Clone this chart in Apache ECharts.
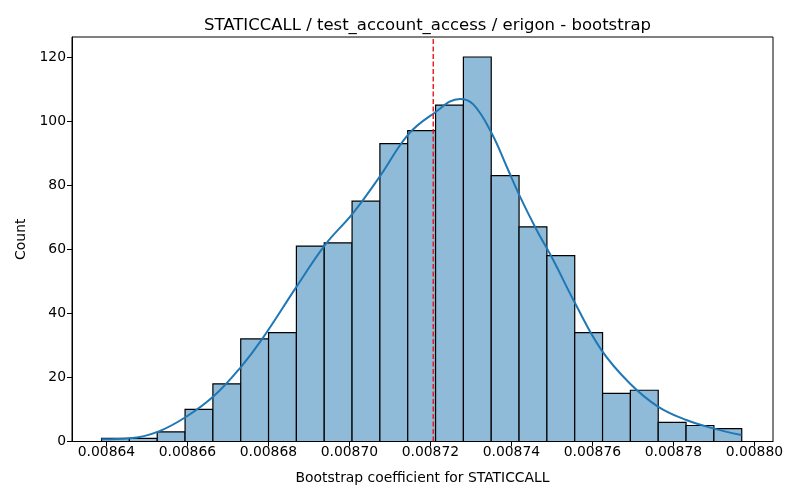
<!DOCTYPE html>
<html>
<head>
<meta charset="utf-8">
<title>STATICCALL bootstrap</title>
<script src="https://cdn.jsdelivr.net/npm/echarts@6/dist/echarts.min.js"></script>
<style>
  html, body { margin: 0; padding: 0; background: #fff; }
  #chart { width: 800px; height: 500px; }
</style>
</head>
<body>
<div id="chart"></div>
<script>
// histogram bins: first edge, bin width, counts per bin
var binStart = 0.0086388;
var binWidth = 0.000006873;
var counts = [1, 1, 3, 10, 18, 32, 34, 61, 62, 75, 93, 97, 105, 120, 83, 67, 58, 34, 15, 16, 6, 5, 4];

// kde curve
var kdeX = [0.0086388, 0.0086458, 0.0086528, 0.0086598, 0.0086668, 0.0086733, 0.0086783,
            0.0086870, 0.0086940, 0.0087009, 0.0087075, 0.0087145, 0.0087207, 0.0087273,
            0.0087306, 0.0087351, 0.0087388, 0.0087421, 0.0087462, 0.0087503, 0.0087557,
            0.0087622, 0.0087692, 0.0087762, 0.0087832, 0.0087898, 0.0087968];
var kdeY = [0.7, 1.0, 3.1, 7.8, 14.5, 23.4, 31.7, 48.4, 61.4, 71.3, 82.7, 95.8, 102.3, 106.9,
            105.2, 96.3, 85.9, 76.5, 66.1, 56.7, 43.2, 28.6, 18.2, 10.9, 6.7, 4.1, 2.0];

// dashed reference line (x position)
var meanLine = 0.0087207;

var xTicks = [0.00864, 0.00866, 0.00868, 0.00870, 0.00872, 0.00874, 0.00876, 0.00878, 0.00880];
var yTicks = [0, 20, 40, 60, 80, 100, 120];

var yMax = 126.25;

var bars = counts.map(function (c, i) {
    return [binStart + i * binWidth, binStart + (i + 1) * binWidth, c];
});
var kde = kdeX.map(function (x, i) { return [x, kdeY[i]]; });

var font = 'DejaVu Sans';
var myChart = echarts.init(document.getElementById('chart'));

var option = {
    animation: false,
    title: {
        text: 'STATICCALL / test_account_access / erigon - bootstrap',
        left: 422.5,
        top: 12,
        textAlign: 'center',
        textStyle: { fontFamily: font, fontSize: 16.5, fontWeight: 'normal', color: '#000' }
    },
    grid: {
        left: 72, right: 27, top: 37, bottom: 58.5,
        show: true, borderColor: '#000', borderWidth: 1
    },
    xAxis: {
        type: 'value',
        min: 0.0086315,
        max: 0.0088046,
        name: 'Bootstrap coefficient for STATICCALL',
        nameLocation: 'middle',
        nameGap: 30,
        nameTextStyle: { fontFamily: font, fontSize: 13.9, color: '#000' },
        splitLine: { show: false },
        axisLine: { lineStyle: { color: '#000' } },
        axisTick: { show: true, length: 5, lineStyle: { color: '#000' }, customValues: xTicks },
        axisLabel: {
            fontFamily: font, fontSize: 13.9, color: '#000', margin: 4,
            customValues: xTicks,
            formatter: function (v) { return v.toFixed(5); }
        }
    },
    yAxis: {
        type: 'value',
        min: 0,
        max: yMax,
        name: 'Count',
        nameLocation: 'middle',
        nameGap: 44,
        nameTextStyle: { fontFamily: font, fontSize: 13.9, color: '#000' },
        splitLine: { show: false },
        axisLine: { show: true, lineStyle: { color: '#000' } },
        axisTick: { show: true, length: 5, lineStyle: { color: '#000' }, customValues: yTicks },
        axisLabel: { fontFamily: font, fontSize: 13.9, color: '#000', margin: 6, customValues: yTicks }
    },
    series: [
        {
            type: 'custom',
            data: bars,
            renderItem: function (params, api) {
                var p0 = api.coord([api.value(0), 0]);
                var p1 = api.coord([api.value(1), api.value(2)]);
                return {
                    type: 'rect',
                    shape: { x: p0[0], y: p1[1], width: p1[0] - p0[0], height: p0[1] - p1[1] },
                    style: { fill: '#8fbbd9', stroke: '#000', lineWidth: 1.2 }
                };
            },
            z: 2
        },
        {
            type: 'line',
            data: kde,
            smooth: 0.4,
            symbol: 'none',
            lineStyle: { color: '#1f77b4', width: 2 },
            z: 3
        },
        {
            type: 'line',
            data: [[meanLine, 0], [meanLine, yMax]],
            symbol: 'none',
            silent: true,
            lineStyle: { color: '#e8141c', type: [5, 2.5], width: 1.4 },
            z: 4
        }
    ]
};

myChart.setOption(option);
</script>
</body>
</html>
